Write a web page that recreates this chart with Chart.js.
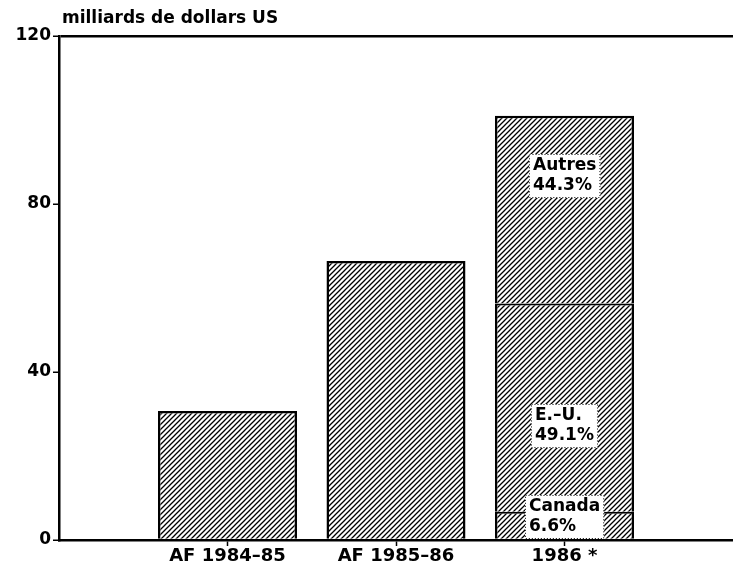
<!DOCTYPE html>
<html>
<head>
<meta charset="utf-8">
<script src="https://cdn.jsdelivr.net/npm/chart.js@4/dist/chart.umd.min.js"></script>
<style>
  html, body { margin: 0; padding: 0; background: #fff; }
  #wrap { width: 733px; height: 569px; }
</style>
</head>
<body>
<div id="wrap"><canvas id="chart" width="733" height="569"></canvas></div>
<script>
// data (milliards de dollars US)
const categories = ['', 'AF 1984–85', 'AF 1985–86', '1986 *', ''];
const totals = [null, 30.7, 66.4, null, null];
const canada = [null, null, null, 6.7, null];
const etatsUnis = [null, null, null, 49.6, null];
const autres = [null, null, null, 44.7, null];
const yTicks = [0, 40, 80, 120];
const segmentLabels = [
    { ds: 1, lines: ['Canada', '6.6%'] },
    { ds: 2, lines: ['E.–U.', '49.1%'] },
    { ds: 3, lines: ['Autres', '44.3%'] }
];

const FONT = "'DejaVu Sans', sans-serif";

// hatch pattern "/" lines
function hatch() {
    const s = 5;
    const c = document.createElement('canvas');
    c.width = s; c.height = s;
    const g = c.getContext('2d');
    g.fillStyle = '#fff';
    g.fillRect(0, 0, s, s);
    g.strokeStyle = '#000';
    g.lineWidth = 1.3;
    g.beginPath();
    g.moveTo(0, s); g.lineTo(s, 0);
    g.moveTo(-1, 1); g.lineTo(1, -1);
    g.moveTo(s - 1, s + 1); g.lineTo(s + 1, s - 1);
    g.stroke();
    return g.createPattern(c, 'repeat');
}
const pattern = hatch();

const extras = {
    id: 'extras',
    afterDraw(chart) {
        const ctx = chart.ctx;
        const area = chart.chartArea;
        ctx.save();
        // unit label
        ctx.fillStyle = '#000';
        ctx.font = 'bold 17px ' + FONT;
        ctx.textAlign = 'left';
        ctx.textBaseline = 'alphabetic';
        ctx.fillText('milliards de dollars US', area.left + 3, 23);

        // labels in the stacked bar
        ctx.font = 'bold 17px ' + FONT;
        segmentLabels.forEach(lab => {
            const meta = chart.getDatasetMeta(lab.ds);
            const el = meta.data[3];
            if (!el) return;
            const top = Math.min(el.y, el.base);
            const bot = Math.max(el.y, el.base);
            let cy;
            if (lab.ds === 3) cy = top + (bot - top) * 0.32;
            else if (lab.ds === 2) cy = top + (bot - top) * 0.59;
            else cy = top + (bot - top) * 0.2;
            const w = Math.max(...lab.lines.map(t => ctx.measureText(t).width)) + 8;
            const h = 44;
            const x0 = Math.round(el.x - w / 2);
            const y0 = Math.round(cy - h / 2);
            ctx.fillStyle = '#fff';
            ctx.fillRect(x0, y0, w, h);
            ctx.strokeStyle = '#000';
            ctx.lineWidth = 1;
            ctx.setLineDash([1, 2]);
            ctx.strokeRect(x0 + 0.5, y0 + 0.5, w - 1, h - 1);
            ctx.setLineDash([]);
            ctx.fillStyle = '#000';
            ctx.textAlign = 'left';
            ctx.textBaseline = 'middle';
            ctx.fillText(lab.lines[0], x0 + 4, y0 + 12);
            ctx.fillText(lab.lines[1], x0 + 4, y0 + 32);
        });
        ctx.restore();
    }
};

function seg(label, data, bw) {
    return {
        label: label,
        data: data,
        backgroundColor: pattern,
        borderColor: '#000',
        borderWidth: bw,
        borderSkipped: false,
        inflateAmount: 0,
        stack: 's'
    };
}

new Chart(document.getElementById('chart'), {
    type: 'bar',
    data: {
        labels: categories,
        datasets: [
            seg('Total', totals, { left: 2.5, right: 2.5, top: 2.5, bottom: 0 }),
            seg('Canada', canada, { left: 2.5, right: 2.5, top: 2, bottom: 0 }),
            seg('E.-U.', etatsUnis, { left: 2.5, right: 2.5, top: 2, bottom: 0 }),
            seg('Autres', autres, { left: 2.5, right: 2.5, top: 2.5, bottom: 0 })
        ]
    },
    options: {
        responsive: false,
        animation: false,
        layout: { padding: { top: 36, right: 0, left: 0, bottom: 0 } },
        datasets: { bar: { categoryPercentage: 0.825, barPercentage: 1 } },
        plugins: { legend: { display: false }, tooltip: { enabled: false } },
        scales: {
            x: {
                stacked: true,
                offset: false,
                grid: {
                    offset: false,
                    drawOnChartArea: false,
                    tickLength: 6,
                    tickColor: c => (c.index === 0 || c.index === categories.length - 1) ? 'transparent' : '#000',
                    tickWidth: 1.5
                },
                border: { color: '#000', width: 2.5 },
                ticks: {
                    color: '#000',
                    font: { family: FONT, size: 18, weight: 'bold' },
                    maxRotation: 0,
                    autoSkip: false,
                    padding: 0
                },
                afterFit(s) { s.height = 29; }
            },
            y: {
                stacked: true,
                min: 0,
                max: 120,
                afterBuildTicks(s) { s.ticks = yTicks.map(v => ({ value: v })); },
                grid: {
                    drawOnChartArea: true,
                    color: c => (c.tick && c.tick.value === 120) ? '#000' : 'transparent',
                    lineWidth: 2.5,
                    tickColor: '#000',
                    tickLength: 6,
                    tickWidth: 1.5
                },
                border: { color: '#000', width: 2.5 },
                ticks: {
                    color: '#000',
                    font: { family: FONT, size: 17, weight: 'bold' },
                    padding: 2
                },
                afterFit(s) { s.width = 59; }
            }
        }
    },
    plugins: [extras]
});
</script>
</body>
</html>
